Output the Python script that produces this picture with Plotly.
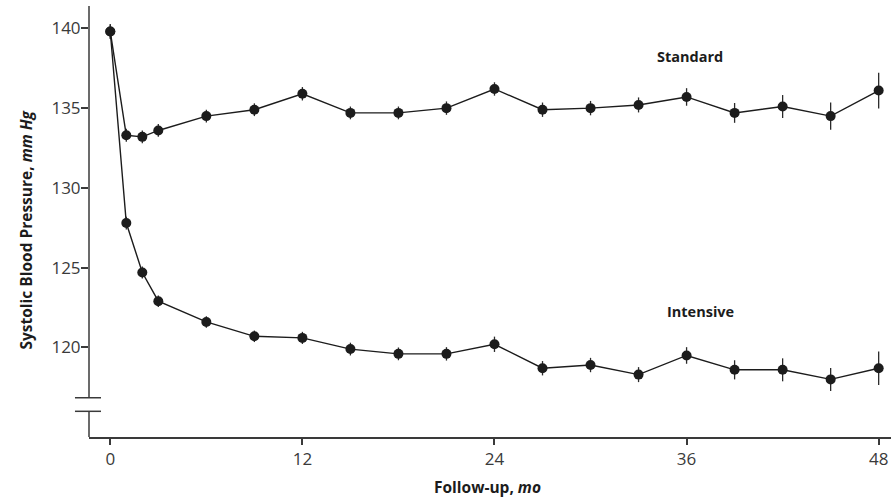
import plotly.graph_objects as go

# Follow-up months and mean systolic blood pressure (mm Hg) with error bars
months = [0, 1, 2, 3, 6, 9, 12, 15, 18, 21, 24, 27, 30, 33, 36, 39, 42, 45, 48]

standard_sbp = [139.8, 133.3, 133.2, 133.6, 134.5, 134.9, 135.9, 134.7, 134.7, 135.0,
                136.2, 134.9, 135.0, 135.2, 135.7, 134.7, 135.1, 134.5, 136.1]
standard_err = [0.45, 0.4, 0.4, 0.4, 0.4, 0.4, 0.42, 0.4, 0.4, 0.42,
                0.42, 0.45, 0.45, 0.47, 0.55, 0.62, 0.72, 0.86, 1.12]

intensive_sbp = [139.8, 127.8, 124.7, 122.9, 121.6, 120.7, 120.6, 119.9, 119.6, 119.6,
                 120.2, 118.7, 118.9, 118.3, 119.5, 118.6, 118.6, 118.0, 118.7]
intensive_err = [0.45, 0.4, 0.38, 0.36, 0.36, 0.36, 0.38, 0.4, 0.4, 0.42,
                 0.48, 0.45, 0.45, 0.47, 0.52, 0.6, 0.72, 0.72, 1.05]

x_ticks = [0, 12, 24, 36, 48]
y_ticks = [120, 125, 130, 135, 140]

series_labels = ["Standard", "Intensive"]

INK = "#1c1c1c"
AXIS = "#3a3a3a"
FONT = "Open Sans"

Y_MIN, Y_MAX = 114.39, 141.4
BREAK_HI, BREAK_LO = 116.85, 116.0

fig = go.Figure()

for name, vals, errs in [(series_labels[0], standard_sbp, standard_err),
                         (series_labels[1], intensive_sbp, intensive_err)]:
    fig.add_trace(go.Scatter(
        x=months, y=vals, name=name, mode="lines+markers",
        line=dict(color=INK, width=1.4),
        marker=dict(color=INK, size=10),
        error_y=dict(type="data", array=errs, visible=True,
                     color="#2a2a2a", thickness=1.3, width=0),
        showlegend=False,
        cliponaxis=False,
    ))

# Series labels
fig.add_annotation(x=36.2, y=138.22, text="<b>Standard</b>", showarrow=False,
                   font=dict(family=FONT, size=14.5, color=INK))
fig.add_annotation(x=36.85, y=122.28, text="<b>Intensive</b>", showarrow=False,
                   font=dict(family=FONT, size=14.5, color=INK))

# Broken y-axis line with break marks
fig.add_shape(type="line", xref="paper", yref="y", x0=0, x1=0, y0=BREAK_HI, y1=Y_MAX,
              line=dict(color=AXIS, width=1.5))
fig.add_shape(type="line", xref="paper", yref="y", x0=0, x1=0, y0=Y_MIN, y1=BREAK_LO,
              line=dict(color=AXIS, width=1.5))
for yb in (BREAK_HI, BREAK_LO):
    fig.add_shape(type="line", xref="paper", yref="y", x0=-0.0175, x1=0.015, y0=yb, y1=yb,
                  line=dict(color=AXIS, width=1.5))

# Axis titles
fig.add_annotation(xref="paper", yref="paper", x=0, y=0.479, xshift=-63,
                   xanchor="center", yanchor="middle",
                   text="<b>Systolic Blood Pressure, <i>mm Hg</i></b>", textangle=-90,
                   showarrow=False, font=dict(family=FONT, size=15.5, color=INK))
fig.add_annotation(xref="paper", yref="paper", x=0.4975, y=0, yshift=-50,
                   xanchor="center", yanchor="middle",
                   text="<b>Follow-up, <i>mo</i></b>", showarrow=False,
                   font=dict(family=FONT, size=15.5, color=INK))

fig.update_layout(
    width=893, height=498,
    margin=dict(l=89, r=2, t=6, b=61),
    plot_bgcolor="white", paper_bgcolor="white",
    font=dict(family=FONT, size=17, color="#3a3a3a"),
    xaxis=dict(range=[-1.33, 48.77], tickvals=x_ticks, ticks="outside", ticklen=6,
               tickwidth=1.5, tickcolor=AXIS, showline=True, linecolor=AXIS, linewidth=1.5,
               showgrid=False, zeroline=False, fixedrange=True),
    yaxis=dict(range=[Y_MIN, Y_MAX], tickvals=y_ticks, ticks="outside", ticklen=7,
               tickwidth=1.5, tickcolor=AXIS, showline=False, ticklabelstandoff=-3,
               showgrid=False, zeroline=False, fixedrange=True),
)

fig.write_html("out.html")
